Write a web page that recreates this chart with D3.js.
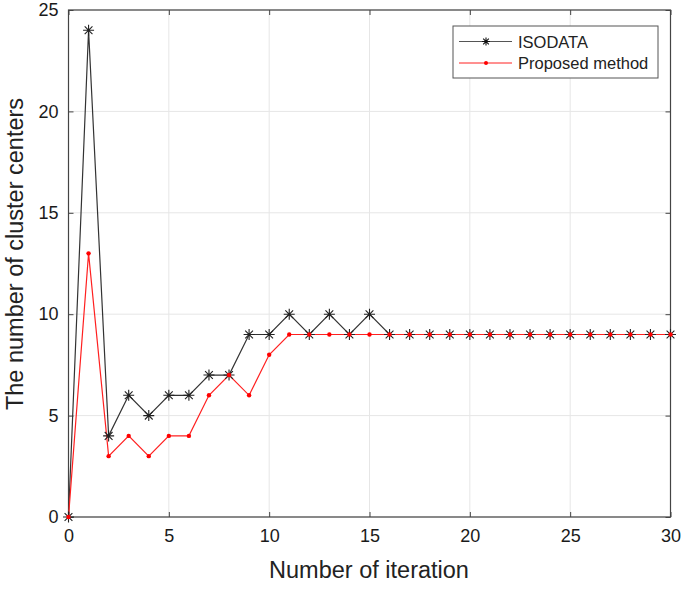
<!DOCTYPE html>
<html><head><meta charset="utf-8">
<script src="https://cdn.jsdelivr.net/npm/d3@7"></script>
<style>body{margin:0;background:#fff}svg{display:block}text{font-family:"Liberation Sans",Arial,sans-serif}</style>
</head><body><svg id="c" width="685" height="589"></svg>
<script>
const iterations = d3.range(0, 31);
const isodata = [0,24,4,6,5,6,6,7,7,9,9,10,9,10,9,10,9,9,9,9,9,9,9,9,9,9,9,9,9,9,9];
const proposed = [0,13,3,4,3,4,4,6,7,6,8,9,9,9,9,9,9,9,9,9,9,9,9,9,9,9,9,9,9,9,9];
const xTicks = [0,5,10,15,20,25,30];
const yTicks = [0,5,10,15,20,25];
const seriesNames = ["ISODATA","Proposed method"];

const svg = d3.select("#c");
const L=68.5, R=670.5, T=10, B=517;
const x = d3.scaleLinear().domain([0,30]).range([L,R]);
const y = d3.scaleLinear().domain([0,25]).range([B,T]);

// grid
svg.append("g").selectAll("line").data(xTicks).join("line")
  .attr("x1",d=>x(d)).attr("x2",d=>x(d)).attr("y1",T).attr("y2",B)
  .attr("stroke","#e6e6e6").attr("stroke-width",1);
svg.append("g").selectAll("line").data(yTicks).join("line")
  .attr("y1",d=>y(d)).attr("y2",d=>y(d)).attr("x1",L).attr("x2",R)
  .attr("stroke","#e6e6e6").attr("stroke-width",1);

// axes (inner ticks)
const xa = svg.append("g").attr("transform",`translate(0,${B})`)
  .call(d3.axisBottom(x).tickValues(xTicks).tickSize(-5).tickPadding(12));
const ya = svg.append("g").attr("transform",`translate(${L},0)`)
  .call(d3.axisLeft(y).tickValues(yTicks).tickSize(-5).tickPadding(10));
const xaTop = svg.append("g").attr("transform",`translate(0,${T})`)
  .call(d3.axisTop(x).tickValues(xTicks).tickSize(-5).tickFormat(""));
const yaR = svg.append("g").attr("transform",`translate(${R},0)`)
  .call(d3.axisRight(y).tickValues(yTicks).tickSize(-5).tickFormat(""));
[xa,ya,xaTop,yaR].forEach(g=>{
  g.select(".domain").remove();
  g.selectAll("line").attr("stroke","#444");
  g.selectAll("text").attr("font-size",18).attr("fill","#1a1a1a");
});
svg.append("rect").attr("x",L).attr("y",T).attr("width",R-L).attr("height",B-T)
  .attr("fill","none").attr("stroke","#444").attr("stroke-width",1.2);

// lines
const line = d3.line().x((d,i)=>x(iterations[i])).y(d=>y(d));
svg.append("path").datum(isodata).attr("d",line).attr("fill","none")
  .attr("stroke","#333").attr("stroke-width",1.2);
svg.append("path").datum(proposed).attr("d",line).attr("fill","none")
  .attr("stroke","#ff2020").attr("stroke-width",1.2);

function starPath(r){
  let p="";
  for(let k=0;k<4;k++){const a=k*Math.PI/4;const dx=r*Math.cos(a),dy=r*Math.sin(a);
    p+=`M${-dx},${-dy}L${dx},${dy}`;}
  return p;
}
svg.append("g").selectAll("path").data(isodata).join("path")
  .attr("transform",(d,i)=>`translate(${x(iterations[i])},${y(d)})`)
  .attr("d",starPath(5.5)).attr("stroke","#222").attr("stroke-width",1.1).attr("fill","none");
svg.append("g").selectAll("circle").data(proposed).join("circle")
  .attr("cx",(d,i)=>x(iterations[i])).attr("cy",d=>y(d)).attr("r",2.2).attr("fill","#ff0000");

// legend
const lg = svg.append("g");
lg.append("rect").attr("x",453).attr("y",26).attr("width",205).attr("height",52)
  .attr("fill","#fff").attr("stroke","#555").attr("stroke-width",1);
const ly=[41.5,63];
lg.append("line").attr("x1",459).attr("x2",512).attr("y1",ly[0]).attr("y2",ly[0]).attr("stroke","#555");
lg.append("path").attr("transform",`translate(486,${ly[0]})`).attr("d",starPath(4)).attr("stroke","#111").attr("stroke-width",1.1);
lg.append("line").attr("x1",459).attr("x2",512).attr("y1",ly[1]).attr("y2",ly[1]).attr("stroke","#ff2020");
lg.append("circle").attr("cx",486).attr("cy",ly[1]).attr("r",2).attr("fill","#ff0000");
lg.selectAll("text").data(seriesNames).join("text")
  .attr("x",518).attr("y",(d,i)=>ly[i]+6).attr("font-size",16.5).attr("fill","#222").text(d=>d);

// axis labels
svg.append("text").attr("x",369).attr("y",578).attr("text-anchor","middle")
  .attr("font-size",23.5).attr("fill","#222").text("Number of iteration");
svg.append("text").attr("transform",`translate(23,254) rotate(-90)`).attr("text-anchor","middle")
  .attr("font-size",23.5).attr("fill","#222").text("The number of cluster centers");
</script></body></html>
